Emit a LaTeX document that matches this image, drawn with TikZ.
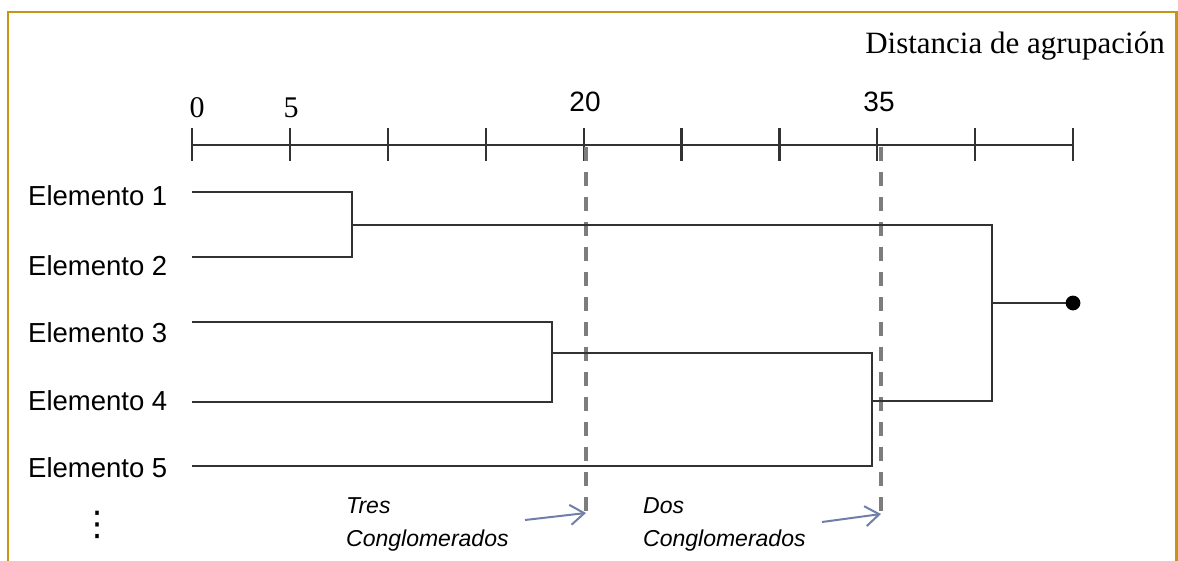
\documentclass[tikz,border=0pt]{standalone}
\usepackage{fontspec}
\setmainfont{Liberation Serif}
\setsansfont{Liberation Sans}
\newfontfamily\symbolfont{DejaVu Sans}
\usetikzlibrary{arrows.meta}
\definecolor{framegold}{RGB}{196,150,20}
\definecolor{branchgray}{RGB}{50,50,50}
\definecolor{cutgray}{RGB}{125,125,125}
\definecolor{pointerblue}{RGB}{112,126,172}
\begin{document}
\begin{tikzpicture}[x=1pt,y=-1pt,
  branch/.style={draw=branchgray,line width=2.4pt,line join=miter},
  axisline/.style={draw=branchgray,line width=2.8pt},
  tickmark/.style={draw=branchgray,line width=2.2pt},
  cutline/.style={draw=cutgray,line width=3.2pt,dash pattern=on 14pt off 11pt},
  pointer/.style={draw=pointerblue,line width=2pt,-{Straight Barb[length=14pt,width=20pt,line width=2pt]}},
  elem/.style={font=\sffamily\fontsize{27.5}{30}\selectfont,anchor=base west,inner sep=0pt},
  serifnum/.style={font=\fontsize{30}{32}\selectfont,anchor=base,inner sep=0pt},
  sansnum/.style={font=\sffamily\fontsize{28}{30}\selectfont,anchor=base,inner sep=0pt},
  note/.style={font=\sffamily\itshape\fontsize{23}{33}\selectfont,anchor=base west,inner sep=0pt,align=left}]

\useasboundingbox (0,0) rectangle (1178,560);
\begin{scope}
  \clip (0,0) rectangle (1178,560);
  \draw[framegold,line width=2.6pt] (8,600) -- (8,12) -- (1176.7,12) -- (1176.7,600);
\end{scope}

% title of the axis
\node[font=\fontsize{31}{33}\selectfont,anchor=base east,inner sep=0pt] (title) at (1165,53) {Distancia de agrupación};

% distance axis with ten ticks
\foreach \i in {0,...,9} {
  \coordinate (t\i) at ({192+97.9*\i},145);
  \draw[tickmark] ({192+97.9*\i},128) -- ({192+97.9*\i},161);
}
\draw[axisline] (t0) -- (t9);
\node[serifnum] (n0) at (197,117) {0};
\node[serifnum] (n5) at (291,117) {5};
\node[sansnum] (n20) at (585,111) {20};
\node[sansnum] (n35) at (879,111) {35};

% elements
\node[elem] (e1) at (28,205) {Elemento 1};
\node[elem] (e2) at (28,275) {Elemento 2};
\node[elem] (e3) at (28,342) {Elemento 3};
\node[elem] (e4) at (28,410) {Elemento 4};
\node[elem] (e5) at (28,477) {Elemento 5};
\node[font=\symbolfont\fontsize{34}{36}\selectfont,inner sep=0pt] (dots) at (97,525) {⋮};

% leaves
\coordinate (l1) at (192,192);
\coordinate (l2) at (192,257);
\coordinate (l3) at (192,322);
\coordinate (l4) at (192,402);
\coordinate (l5) at (192,466);

% cut lines
\coordinate (c20top) at (586,147);
\coordinate (c20bot) at (586,513);
\coordinate (c35top) at (881,147);
\coordinate (c35bot) at (881,514);
\draw[cutline] (c20top) -- (c20bot);
\draw[cutline] (c35top) -- (c35bot);

% merge of 1 and 2
\coordinate (m12) at (352,225);
\draw[branch] (l1) -| (352,257) -- (l2);
% merge of 3 and 4
\coordinate (m34) at (552,353);
\draw[branch] (l3) -| (552,402) -- (l4);
% merge of (3,4) and 5
\coordinate (m345) at (872,401);
\draw[branch] (m34) -| (872,466) -- (l5);
% root merge
\coordinate (root) at (992,303);
\coordinate (tip) at (1073,303);
\draw[branch] (m12) -| (992,401) -- (m345);
\draw[branch] (root) -- (tip);
\fill[black] (tip) circle (7.4pt);

% cluster annotations
\node[note] (tres) at (346,546) {Tres\\Conglomerados};
\node[note] (dos) at (643,546) {Dos\\Conglomerados};
\coordinate (p3) at (525,520);
\coordinate (p2) at (822,522);
\draw[pointer] (p3) -- (c20bot);
\draw[pointer] (p2) -- (c35bot);
\end{tikzpicture}
\end{document}
